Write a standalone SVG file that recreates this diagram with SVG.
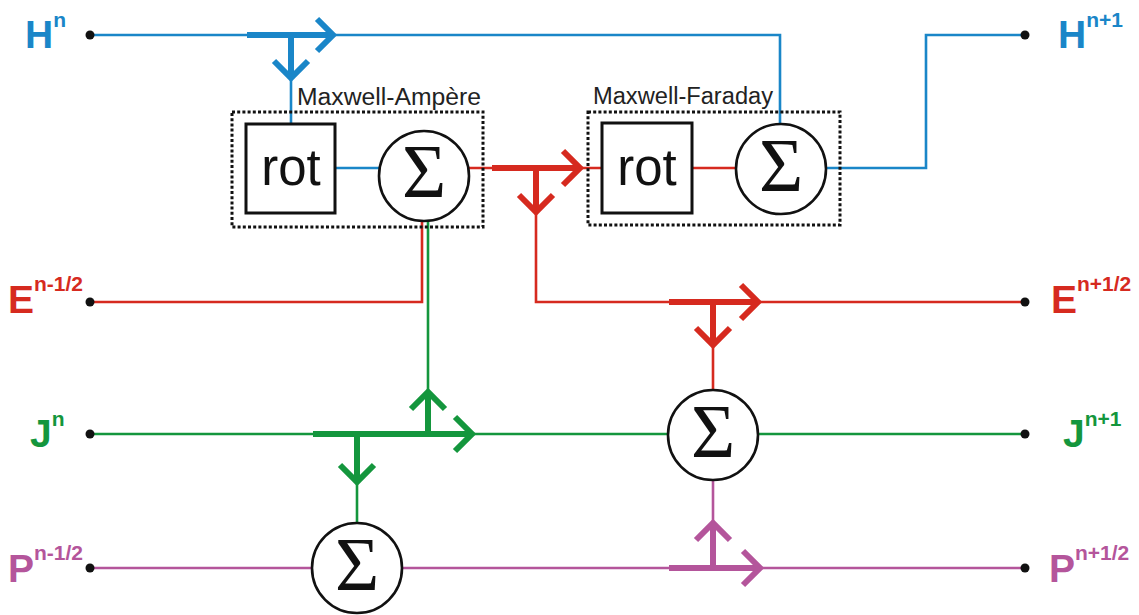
<svg xmlns="http://www.w3.org/2000/svg" width="1139" height="615" viewBox="0 0 1139 615">
<style>
.bg{fill:#ffffff}
.thin{fill:none;stroke-width:2.6;stroke-linejoin:miter}
.thick{fill:none;stroke-width:6}
.chev{fill:none;stroke-width:6;stroke-linecap:butt;stroke-linejoin:miter}
.b{stroke:#1a86c8}
.r{stroke:#d62a1f}
.g{stroke:#14963d}
.m{stroke:#b4559b}
.dot{fill:#111111}
.sum{fill:#ffffff;stroke:#111111;stroke-width:2.6}
.rotbox{fill:#ffffff;stroke:#111111;stroke-width:3}
.dotted{fill:none;stroke:#111111;stroke-width:3;stroke-dasharray:3 2.2}
.sig{font-family:"Liberation Serif","DejaVu Serif",serif;font-size:76px;fill:#111111;text-anchor:middle}
.rot{font-family:"Liberation Sans",Arial,sans-serif;font-size:51px;fill:#111111;text-anchor:middle}
.cap{font-family:"Liberation Sans",Arial,sans-serif;font-size:23px;fill:#222222}
.lbl{font-family:"Liberation Sans",Arial,sans-serif;font-weight:bold;font-size:39px}
.sup{font-size:21px}
.tb{fill:#1a86c8}
.tr{fill:#d62a1f}
.tg{fill:#14963d}
.tm{fill:#b4559b}
</style>
<rect class="bg" x="0" y="0" width="1139" height="615"/>

<g id="connectors">
  <!-- H (blue) -->
  <polyline class="thin b" points="90,35 780,35 780,124"/>
  <line class="thick b" x1="247" y1="35" x2="333" y2="35"/>
  <polyline class="chev b" points="317,19 333,35 317,51"/>
  <line class="thick b" x1="291" y1="35" x2="291" y2="78"/>
  <polyline class="chev b" points="274,61 291,78 308,61"/>
  <line class="thin b" x1="291" y1="78" x2="291" y2="124"/>
  <line class="thin b" x1="335" y1="168" x2="380" y2="168"/>
  <polyline class="thin b" points="825,168 926,168 926,35 1025,35"/>

  <!-- E (red) -->
  <line class="thin r" x1="469" y1="168" x2="602" y2="168"/>
  <line class="thick r" x1="492" y1="168" x2="580" y2="168"/>
  <polyline class="chev r" points="563,151 580,168 563,185"/>
  <line class="thick r" x1="536" y1="168" x2="536" y2="212"/>
  <polyline class="chev r" points="519,195 536,212 553,195"/>
  <polyline class="thin r" points="536,212 536,302 1025,302"/>
  <line class="thick r" x1="669" y1="302" x2="758" y2="302"/>
  <polyline class="chev r" points="741,285 758,302 741,319"/>
  <line class="thick r" x1="713" y1="302" x2="713" y2="345"/>
  <polyline class="chev r" points="696,328 713,345 730,328"/>
  <line class="thin r" x1="713" y1="345" x2="713" y2="391"/>
  <polyline class="thin r" points="90,302 422,302 422,220"/>
  <line class="thin r" x1="692" y1="168" x2="737" y2="168"/>

  <!-- J (green) -->
  <line class="thin g" x1="90" y1="434" x2="1025" y2="434"/>
  <line class="thick g" x1="313" y1="434" x2="472" y2="434"/>
  <polyline class="chev g" points="455,417 472,434 455,451"/>
  <line class="thick g" x1="428" y1="434" x2="428" y2="392"/>
  <polyline class="chev g" points="411,409 428,392 445,409"/>
  <line class="thin g" x1="428" y1="392" x2="428" y2="220"/>
  <line class="thick g" x1="357" y1="434" x2="357" y2="482"/>
  <polyline class="chev g" points="340,465 357,482 374,465"/>
  <line class="thin g" x1="357" y1="482" x2="357" y2="524"/>

  <!-- P (magenta) -->
  <line class="thin m" x1="90" y1="568" x2="1025" y2="568"/>
  <line class="thick m" x1="669" y1="568" x2="760" y2="568"/>
  <polyline class="chev m" points="743,551 760,568 743,585"/>
  <line class="thick m" x1="713" y1="568" x2="713" y2="523"/>
  <polyline class="chev m" points="696,540 713,523 730,540"/>
  <line class="thin m" x1="713" y1="523" x2="713" y2="479"/>

  <!-- terminal dots -->
  <circle class="dot" cx="90" cy="35" r="4.5"/>
  <circle class="dot" cx="1025" cy="35" r="4.5"/>
  <circle class="dot" cx="90" cy="302" r="4.5"/>
  <circle class="dot" cx="1025" cy="302" r="4.5"/>
  <circle class="dot" cx="90" cy="434" r="4.5"/>
  <circle class="dot" cx="1025" cy="434" r="4.5"/>
  <circle class="dot" cx="90" cy="568" r="4.5"/>
  <circle class="dot" cx="1025" cy="568" r="4.5"/>
</g>

<g id="maxwell-ampere">
  <rect class="dotted" x="232" y="112" width="251" height="115"/>
  <text class="cap" x="297" y="105" textLength="184" lengthAdjust="spacingAndGlyphs">Maxwell-Ampère</text>
  <g id="rot-ampere">
    <rect class="rotbox" x="246" y="124" width="89" height="89"/>
    <text class="rot" x="291" y="185">rot</text>
  </g>
  <g id="sum-ampere">
    <circle class="sum" cx="424" cy="176" r="45"/>
    <text class="sig" x="424" y="197">Σ</text>
  </g>
</g>

<g id="maxwell-faraday">
  <rect class="dotted" x="588" y="112" width="252" height="113"/>
  <text class="cap" x="593" y="104" textLength="180" lengthAdjust="spacingAndGlyphs">Maxwell-Faraday</text>
  <g id="rot-faraday">
    <rect class="rotbox" x="602" y="123" width="90" height="90"/>
    <text class="rot" x="647" y="185">rot</text>
  </g>
  <g id="sum-faraday">
    <circle class="sum" cx="781" cy="169" r="45"/>
    <text class="sig" x="781" y="191">Σ</text>
  </g>
</g>

<g id="sum-j">
  <circle class="sum" cx="713" cy="435" r="45"/>
  <text class="sig" x="713" y="457">Σ</text>
</g>

<g id="sum-p">
  <circle class="sum" cx="357" cy="568" r="45"/>
  <text class="sig" x="357" y="590">Σ</text>
</g>

<g id="label-h-n"><text class="lbl tb" x="25" y="48">H<tspan class="sup" dy="-21">n</tspan></text></g>
<g id="label-h-n1"><text class="lbl tb" x="1058" y="48">H<tspan class="sup" dy="-21">n+1</tspan></text></g>
<g id="label-e-nm"><text class="lbl tr" x="8" y="313">E<tspan class="sup" dy="-22">n-1/2</tspan></text></g>
<g id="label-e-np"><text class="lbl tr" x="1051" y="313">E<tspan class="sup" dy="-22">n+1/2</tspan></text></g>
<g id="label-j-n"><text class="lbl tg" x="30" y="447">J<tspan class="sup" dy="-21">n</tspan></text></g>
<g id="label-j-n1"><text class="lbl tg" x="1063" y="447">J<tspan class="sup" dy="-21">n+1</tspan></text></g>
<g id="label-p-nm"><text class="lbl tm" x="8" y="582">P<tspan class="sup" dy="-22">n-1/2</tspan></text></g>
<g id="label-p-np"><text class="lbl tm" x="1049" y="582">P<tspan class="sup" dy="-22">n+1/2</tspan></text></g>
</svg>
